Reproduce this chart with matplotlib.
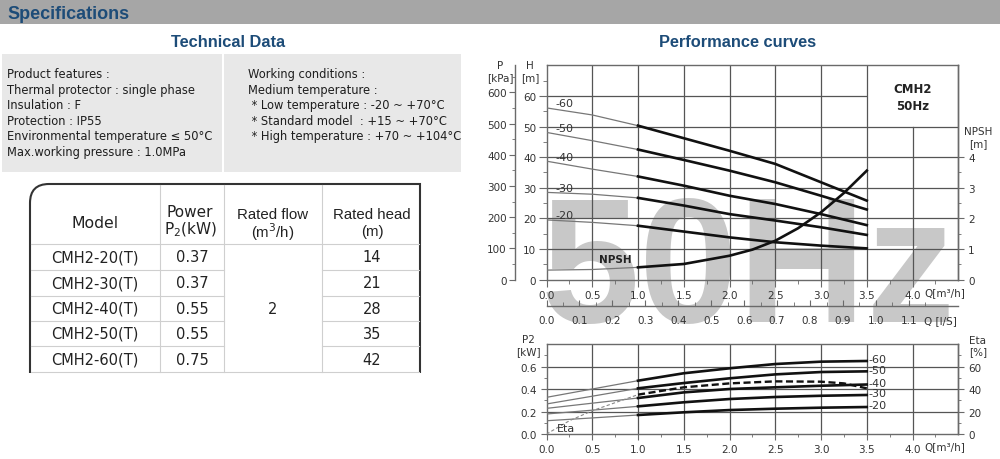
import numpy as np
import matplotlib
matplotlib.use('Agg')
import matplotlib.pyplot as plt
from matplotlib.patches import Rectangle, PathPatch
from matplotlib.path import Path

plt.rcParams['font.family'] = ['DejaVu Sans']

TITLE = '#1d4c78'
FRAME = '#6a6a6a'
GRID = '#555555'
TXT = '#333333'
THIN = '#777777'
BOLDFONT = ['Liberation Sans', 'DejaVu Sans']

# ---------------- data ----------------
features = ['Product features :', 'Thermal protector : single phase', 'Insulation : F',
            'Protection : IP55', 'Environmental temperature \u2264 50\u00b0C',
            'Max.working pressure : 1.0MPa']
conditions = ['Working conditions :', 'Medium temperature :',
              ' * Low temperature : -20 ~ +70\u00b0C',
              ' * Standard model  : +15 ~ +70\u00b0C',
              ' * High temperature : +70 ~ +104\u00b0C']

models = ['CMH2-20(T)', 'CMH2-30(T)', 'CMH2-40(T)', 'CMH2-50(T)', 'CMH2-60(T)']
power_kw = ['0.37', '0.37', '0.55', '0.55', '0.75']
rated_flow = '2'
rated_head = ['14', '21', '28', '35', '42']

stages = ['-60', '-50', '-40', '-30', '-20']
q = [0.0, 0.5, 1.0, 1.5, 2.0, 2.5, 3.0, 3.5]          # m3/h
h_60 = [56.1, 53.8, 50.3, 46.2, 42.1, 37.8, 31.8, 25.8]
h_50 = [48.1, 45.4, 42.5, 39.1, 35.6, 31.8, 27.4, 22.9]
h_40 = [38.7, 36.1, 33.7, 30.7, 27.4, 24.7, 21.4, 17.8]
h_30 = [28.5, 27.9, 26.7, 24.2, 21.4, 19.3, 17.1, 14.6]
h_20 = [19.5, 18.7, 17.6, 15.7, 13.8, 12.2, 11.1, 10.2]

q_npsh = [0.0, 0.5, 1.0, 1.5, 2.0, 2.25, 2.5, 2.75, 3.0, 3.25, 3.5]
npsh = [0.31, 0.33, 0.40, 0.51, 0.78, 0.98, 1.27, 1.68, 2.2, 2.83, 3.56]

p2_60 = [0.326, 0.400, 0.474, 0.540, 0.584, 0.622, 0.643, 0.649]
p2_50 = [0.267, 0.336, 0.406, 0.453, 0.495, 0.530, 0.551, 0.557]
p2_40 = [0.228, 0.274, 0.320, 0.370, 0.400, 0.415, 0.429, 0.440]
p2_30 = [0.178, 0.212, 0.246, 0.282, 0.311, 0.329, 0.340, 0.347]
p2_20 = [0.118, 0.143, 0.169, 0.193, 0.213, 0.225, 0.234, 0.240]

q_eta = [0.0, 0.25, 0.5, 1.0, 1.5, 2.0, 2.5, 3.0, 3.25, 3.5]
eta = [0.0, 11.8, 20.7, 35.0, 41.5, 45.0, 46.8, 46.5, 45.0, 40.6]   # %

heads = [h_60, h_50, h_40, h_30, h_20]
powers = [p2_60, p2_50, p2_40, p2_30, p2_20]

fig = plt.figure(figsize=(10, 4.6), dpi=100)

# ---------------- page canvas (pixel coords) ----------------
cv = fig.add_axes([0, 0, 1, 1], zorder=-1)
cv.set_xlim(0, 1000)
cv.set_ylim(460, 0)
cv.axis('off')

cv.add_patch(Rectangle((0, 0), 1000, 25, color='#a6a6a6', lw=0))
cv.text(7, 19, 'Specifications', fontsize=13, fontweight='bold', color=TITLE,
        family=BOLDFONT, va='baseline')
cv.text(228, 47, 'Technical Data', fontsize=11.8, fontweight='bold', color=TITLE,
        family=BOLDFONT, ha='center', va='baseline')
cv.text(738, 47, 'Performance curves', fontsize=11.8, fontweight='bold', color=TITLE,
        family=BOLDFONT, ha='center', va='baseline')

cv.add_patch(Rectangle((2, 55), 220, 118, color='#e8e8e8', lw=0))
cv.add_patch(Rectangle((224, 55), 237, 118, color='#e8e8e8', lw=0))
for i, s in enumerate(features):
    cv.text(7, 74.5 + i * 15.6, s, fontsize=8.3, color='#1e1e1e', va='center')
for i, s in enumerate(conditions):
    cv.text(248, 74.5 + i * 15.6, s, fontsize=8.3, color='#1e1e1e', va='center')

# table
verts = [(30, 374), (30, 204), (30, 185), (49, 185), (420, 185), (420, 374)]
codes = [Path.MOVETO, Path.LINETO, Path.CURVE3, Path.CURVE3, Path.LINETO, Path.LINETO]
cv.add_patch(PathPatch(Path(verts, codes), fill=False, ec='#333333', lw=1.5))
sep = '#cfcfcf'
for x in [160, 224, 322]:
    cv.plot([x, x], [186, 373], color=sep, lw=0.8)
cv.plot([31, 419], [245, 245], color=sep, lw=0.8)
row_lines = [270.7, 296.7, 321.7, 346.7]
for y in row_lines:
    cv.plot([31, 224], [y, y], color=sep, lw=0.8)
    cv.plot([322, 419], [y, y], color=sep, lw=0.8)
cv.plot([31, 419], [372.7, 372.7], color=sep, lw=0.8)

cv.text(95, 224, 'Model', fontsize=11.3, color='#222', ha='center', va='center')
cv.text(190, 213, 'Power', fontsize=11, color='#222', ha='center', va='center')
cv.text(191, 230, 'P$_{2}$(kW)', fontsize=11, color='#222', ha='center', va='center')
cv.text(273, 215, 'Rated flow', fontsize=10.8, color='#222', ha='center', va='center',
        family=BOLDFONT)
cv.text(273, 232, '(m$^{3}$/h)', fontsize=10.8, color='#222', ha='center', va='center',
        family=BOLDFONT)
cv.text(372, 215, 'Rated head', fontsize=10.8, color='#222', ha='center', va='center',
        family=BOLDFONT)
cv.text(372, 232, '(m)', fontsize=10.8, color='#222', ha='center', va='center',
        family=BOLDFONT)
row_y = [258, 284, 309.5, 334.5, 360.5]
for i in range(len(models)):
    cv.text(95, row_y[i], models[i], fontsize=10.5, color='#222', ha='center', va='center')
    cv.text(192, row_y[i], power_kw[i], fontsize=10.5, color='#222', ha='center', va='center')
    cv.text(372, row_y[i], rated_head[i], fontsize=10.5, color='#222', ha='center', va='center')
cv.text(273, row_y[2], rated_flow, fontsize=10.5, color='#222', ha='center', va='center')

# watermark
cv.text(541, 322, '50Hz', fontsize=128, fontweight='bold', family=BOLDFONT,
        color='#c8c8c8', ha='left', va='baseline', zorder=1)

# axis captions
cap = dict(fontsize=7.5, color=TXT, ha='center', va='center', zorder=3)
cv.text(500, 66, 'P', **cap); cv.text(500, 78, '[kPa]', **cap)
cv.text(530, 66, 'H', **cap); cv.text(530, 78, '[m]', **cap)
cv.text(978, 132, 'NPSH', **cap); cv.text(978, 144, '[m]', **cap)
cv.text(945, 293, 'Q[m\u00b3/h]', **cap)
cv.text(940, 321, 'Q [l/S]', **cap)
cv.text(528, 340, 'P2', **cap); cv.text(528, 352, '[kW]', **cap)
cv.text(978, 341, 'Eta', **cap); cv.text(978, 352, '[%]', **cap)
cv.text(945, 447, 'Q[m\u00b3/h]', **cap)


def style_frame(a):
    for s in a.spines.values():
        s.set_color(FRAME)
        s.set_linewidth(1.0)


def split_plot(a, xs, ys, dashed=False):
    xs = np.asarray(xs)
    ys = np.asarray(ys)
    k = int(np.searchsorted(xs, 1.0))
    if dashed:
        a.plot(xs[:k + 1], ys[:k + 1], color='#888', lw=0.8, ls=(0, (3, 2)), zorder=4)
        a.plot(xs[k:], ys[k:], color='#111', lw=1.7, ls=(0, (3, 1.5)), zorder=4)
    else:
        a.plot(xs[:k + 1], ys[:k + 1], color=THIN, lw=0.9, zorder=4)
        a.plot(xs[k:], ys[k:], color='#111', lw=1.9, zorder=4)


tick_kw = dict(labelsize=7.5, labelcolor=TXT, color=FRAME)

# ---------------- main H-Q chart ----------------
ax = fig.add_axes([0.5465, 0.39, 0.4118, 0.4657])
ax.set_facecolor('none')
ax.set_xlim(0, 4.5)
ax.set_ylim(0, 70)
style_frame(ax)
for x in [0.5, 1.0, 1.5, 2.0, 2.5, 3.0, 3.5]:
    ax.axvline(x, color=GRID, lw=0.9, zorder=2)
ax.axvline(4.0, ymax=50 / 70, color=GRID, lw=0.9, zorder=2)
for y in [10, 20, 30, 40, 50]:
    ax.axhline(y, color=GRID, lw=0.9, zorder=2)
ax.hlines(60, 0, 3.5, color=GRID, lw=0.9, zorder=2)

xt = np.arange(0, 4.01, 0.5)
ax.set_xticks(xt, [f'{v:.1f}' for v in xt])
ax.set_xticks(np.arange(0.25, 4.5, 0.5), minor=True)
ax.set_yticks(range(0, 61, 10))
ax.set_yticks(range(5, 70, 10), minor=True)
ax.tick_params(which='major', direction='out', length=5, pad=2.5, **tick_kw)
ax.tick_params(which='minor', direction='out', length=3, color=FRAME)
ax.tick_params(axis='y', which='major', length=5.5, pad=2)

sec_p = ax.secondary_yaxis(-0.0765, functions=(lambda h: h * 9.81, lambda p: p / 9.81))
sec_p.set_ticks(range(0, 601, 100))
sec_p.set_ticks(range(50, 700, 100), minor=True)
sec_p.tick_params(which='major', direction='out', length=4.5, pad=1.5, **tick_kw)
sec_p.tick_params(which='minor', direction='out', length=2.5, color=FRAME)
style_frame(sec_p)

sec_n = ax.secondary_yaxis('right', functions=(lambda h: h / 10, lambda n: n * 10))
sec_n.set_ticks([0, 1, 2, 3, 4])
sec_n.set_ticks([0.5, 1.5, 2.5, 3.5], minor=True)
sec_n.tick_params(which='major', direction='out', length=4.5, pad=2.5, **tick_kw)
sec_n.tick_params(which='minor', direction='out', length=2.5, color=FRAME)
style_frame(sec_n)

sec_q = ax.secondary_xaxis(-0.123, functions=(lambda v: v / 3.6, lambda v: v * 3.6))
lt = np.round(np.arange(0, 1.11, 0.1), 1)
sec_q.set_ticks(lt, [f'{v:.1f}' for v in lt])
sec_q.set_ticks(np.arange(0.05, 1.2, 0.1), minor=True)
sec_q.tick_params(which='major', direction='in', length=4.5, pad=6.5, **tick_kw)
sec_q.tick_params(which='minor', direction='in', length=3, color=FRAME)
style_frame(sec_q)

for name, h in zip(stages, heads):
    split_plot(ax, q, h)
    ax.text(0.1, h[0] + 1.5, name, fontsize=8, color=TXT, ha='left', va='center', zorder=5)
split_plot(ax, q_npsh, np.array(npsh) * 10)
ax.text(0.75, 6.6, 'NPSH', fontsize=7.5, fontweight='bold', color='#222',
        ha='center', va='center', zorder=5)
ax.text(4.0, 62.3, 'CMH2', fontsize=8.5, fontweight='bold', color='#222',
        ha='center', va='center')
ax.text(4.0, 56.8, '50Hz', fontsize=8.5, fontweight='bold', color='#222',
        ha='center', va='center')

# ---------------- P2 / Eta chart ----------------
bx = fig.add_axes([0.5465, 0.0543, 0.4118, 0.1957])
bx.set_facecolor('none')
bx.set_xlim(0, 4.5)
bx.set_ylim(0, 0.8)
style_frame(bx)
for x in [0.5, 1.0, 1.5, 2.0, 2.5, 3.0, 3.5, 4.0]:
    bx.axvline(x, color=GRID, lw=0.9, zorder=2)
for y in [0.2, 0.4, 0.6]:
    bx.axhline(y, color=GRID, lw=0.9, zorder=2)
bx.set_xticks(xt, [f'{v:.1f}' for v in xt])
bx.set_xticks(np.arange(0.25, 4.5, 0.5), minor=True)
yt = [0.0, 0.2, 0.4, 0.6]
bx.set_yticks(yt, [f'{v:.1f}' for v in yt])
bx.set_yticks([0.1, 0.3, 0.5, 0.7], minor=True)
bx.tick_params(which='major', direction='out', length=4.5, pad=2.5, **tick_kw)
bx.tick_params(which='minor', direction='out', length=2.5, color=FRAME)

sec_e = bx.secondary_yaxis('right', functions=(lambda v: v * 100, lambda v: v / 100))
sec_e.set_ticks([0, 20, 40, 60])
sec_e.set_ticks([10, 30, 50, 70], minor=True)
sec_e.tick_params(which='major', direction='out', length=4.5, pad=2.5, **tick_kw)
sec_e.tick_params(which='minor', direction='out', length=2.5, color=FRAME)
style_frame(sec_e)

for name, p in zip(stages, powers):
    split_plot(bx, q, p)
    bx.text(3.52, p[-1] + 0.015, name, fontsize=8, color=TXT, ha='left', va='center',
            zorder=5)
split_plot(bx, q_eta, np.array(eta) / 100, dashed=True)
bx.text(0.21, 0.053, 'Eta', fontsize=8, color=TXT, ha='center', va='center', zorder=5)

fig.savefig('out.png', dpi=100)
